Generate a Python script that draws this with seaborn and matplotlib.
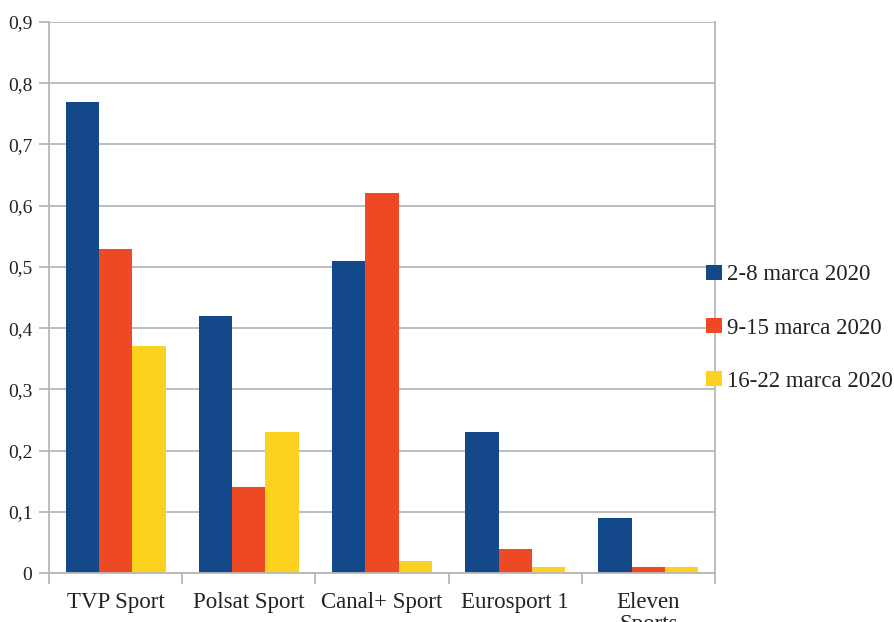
import pandas as pd
import numpy as np
import matplotlib
matplotlib.use("Agg")
import matplotlib.pyplot as plt
import seaborn as sns
from matplotlib.ticker import FixedLocator

# ==========================================
# Data
# ==========================================

channels = ["TVP Sport", "Polsat Sport", "Canal+ Sport", "Eurosport 1", "Eleven\nSports"]
weeks = ["2-8 marca 2020", "9-15 marca 2020", "16-22 marca 2020"]

week1 = [0.77, 0.42, 0.51, 0.23, 0.09]
week2 = [0.53, 0.14, 0.62, 0.04, 0.01]
week3 = [0.37, 0.23, 0.02, 0.01, 0.01]

colors = ["#13488A", "#EF4923", "#FDD21F"]
yticks = [0, 0.1, 0.2, 0.3, 0.4, 0.5, 0.6, 0.7, 0.8, 0.9]
ytick_labels = ["0", "0,1", "0,2", "0,3", "0,4", "0,5", "0,6", "0,7", "0,8", "0,9"]

df = pd.DataFrame({
    "channel": channels * 3,
    "week": [weeks[0]] * 5 + [weeks[1]] * 5 + [weeks[2]] * 5,
    "value": week1 + week2 + week3,
})

# ==========================================
# Plot
# ==========================================

sns.set_theme(style="white")
plt.rcParams["font.family"] = ["Liberation Serif", "DejaVu Serif"]
grid_col = "#b8b8b8"
text_col = "#222222"

fig = plt.figure(figsize=(8.95, 6.22), dpi=100)
ax = fig.add_axes([49 / 895, 49 / 622, 666 / 895, 551 / 622])

sns.barplot(
    data=df, x="channel", y="value", hue="week",
    order=channels, hue_order=weeks, palette=colors,
    width=0.75, gap=0, saturation=1, linewidth=0, ax=ax
)

ax.set_xlim(-0.5, len(channels) - 0.5)
ax.set_ylim(0, 0.9)
ax.set_xlabel("")
ax.set_ylabel("")

ax.set_yticks(yticks)
ax.set_yticklabels(ytick_labels)
ax.yaxis.grid(True, color=grid_col, linewidth=1.3)
ax.set_axisbelow(True)

ax.tick_params(axis="y", length=7, width=1.3, color=grid_col, pad=5,
               labelsize=14, labelcolor=text_col, left=True)
ax.tick_params(axis="x", which="major", length=0, pad=14,
               labelsize=16.5, labelcolor=text_col)
ax.xaxis.set_minor_locator(FixedLocator(np.arange(-0.5, len(channels), 1)))
ax.tick_params(axis="x", which="minor", length=8, width=1.3, color=grid_col, bottom=True)
for lbl in ax.get_xticklabels():
    lbl.set_linespacing(1.05)
    lbl.set_verticalalignment("top")

for side in ["left", "right", "bottom"]:
    ax.spines[side].set_color(grid_col)
    ax.spines[side].set_linewidth(1.3)
ax.spines["top"].set_visible(False)

handles, labels = ax.get_legend_handles_labels()
ax.legend_.remove()
fig.legend(
    handles, labels, loc="center left", bbox_to_anchor=(706 / 895, 294 / 622),
    frameon=False, fontsize=16.5, handlelength=0.68, handleheight=0.68,
    handletextpad=0.25, labelspacing=1.4, borderpad=0, borderaxespad=0,
    labelcolor=text_col
)

fig.savefig("out.png", dpi=100)
